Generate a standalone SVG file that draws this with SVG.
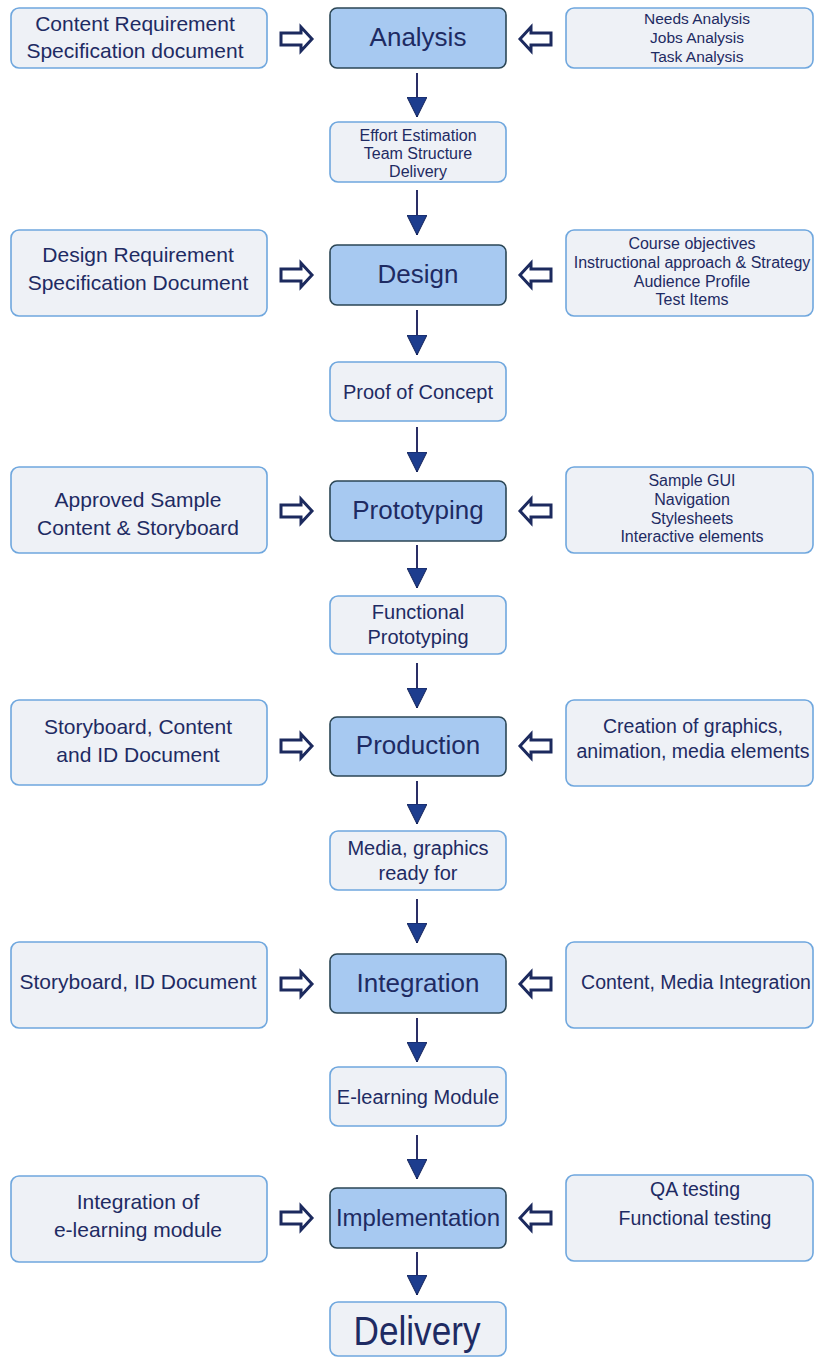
<svg xmlns="http://www.w3.org/2000/svg" width="814" height="1358" viewBox="0 0 814 1358">
<defs>
<style>
.side{fill:#eef1f6;stroke:#6fa7de;stroke-width:1.6}
.main{fill:#a7c9f1;stroke:#2b4655;stroke-width:1.6}
.small{fill:#eef1f6;stroke:#6fa7de;stroke-width:1.6}
text{font-family:"Liberation Sans",Arial,Helvetica,sans-serif;fill:#1e2b63;text-anchor:middle}
.t26{font-size:26px}
.t21{font-size:21px}
.t20{font-size:20px}
.t19{font-size:19.5px}
.t16{font-size:16px}
.t15{font-size:15.5px}
.flow{stroke:#2a2e66;stroke-width:2;fill:none;marker-end:url(#head)}
.hollow{fill:#ffffff;stroke:#1c2a5e;stroke-width:3;stroke-linejoin:miter}
</style>
<marker id="head" viewBox="0 0 20 20" refX="20" refY="10" markerWidth="20" markerHeight="20" markerUnits="userSpaceOnUse" orient="auto">
<path d="M0,0 L20,10 L0,20 Z" fill="#1d3d8e" stroke="#16245a" stroke-width="1"/>
</marker>
<path id="harrow" class="hollow" d="M-15,-6 H5 V-12 L16,0 L5,12 V6 H-15 Z"/>
</defs>
<rect width="814" height="1358" fill="#ffffff"/>

<g id="connectors">
<line class="flow" x1="417" y1="73" x2="417" y2="117"/>
<line class="flow" x1="417" y1="190" x2="417" y2="235"/>
<line class="flow" x1="417" y1="310" x2="417" y2="355"/>
<line class="flow" x1="417" y1="427" x2="417" y2="472"/>
<line class="flow" x1="417" y1="545" x2="417" y2="588"/>
<line class="flow" x1="417" y1="663" x2="417" y2="708"/>
<line class="flow" x1="417" y1="781" x2="417" y2="824"/>
<line class="flow" x1="417" y1="899" x2="417" y2="943"/>
<line class="flow" x1="417" y1="1018" x2="417" y2="1062"/>
<line class="flow" x1="417" y1="1135" x2="417" y2="1179"/>
<line class="flow" x1="417" y1="1252" x2="417" y2="1295"/>
<use href="#harrow" transform="translate(296,39)"/>
<use href="#harrow" transform="translate(536,39) scale(-1,1)"/>
<use href="#harrow" transform="translate(296,275)"/>
<use href="#harrow" transform="translate(536,275) scale(-1,1)"/>
<use href="#harrow" transform="translate(296,511)"/>
<use href="#harrow" transform="translate(536,511) scale(-1,1)"/>
<use href="#harrow" transform="translate(296,746)"/>
<use href="#harrow" transform="translate(536,746) scale(-1,1)"/>
<use href="#harrow" transform="translate(296,984)"/>
<use href="#harrow" transform="translate(536,984) scale(-1,1)"/>
<use href="#harrow" transform="translate(296,1218)"/>
<use href="#harrow" transform="translate(536,1218) scale(-1,1)"/>
</g>

<!-- Row 1 -->
<g id="content-req">
<rect class="side" x="11" y="8" width="256" height="60" rx="8"/>
<text class="t21" x="135" y="31">Content Requirement</text>
<text class="t21" x="135" y="58">Specification document</text>
</g>
<g id="analysis">
<rect class="main" x="330" y="8" width="176" height="60" rx="7"/>
<text class="t26" x="418" y="46">Analysis</text>
</g>
<g id="needs">
<rect class="side" x="566" y="8" width="247" height="60" rx="8"/>
<text class="t15" x="697" y="24">Needs Analysis</text>
<text class="t15" x="697" y="43">Jobs Analysis</text>
<text class="t15" x="697" y="61.5">Task Analysis</text>
</g>
<g id="effort">
<rect class="small" x="330" y="122" width="176" height="60" rx="8"/>
<text class="t16" x="418" y="141">Effort Estimation</text>
<text class="t16" x="418" y="159">Team Structure</text>
<text class="t16" x="418" y="177">Delivery</text>
</g>

<!-- Row 2 -->
<g id="design-req">
<rect class="side" x="11" y="230" width="256" height="86" rx="8"/>
<text class="t21" x="138" y="262">Design Requirement</text>
<text class="t21" x="138" y="290">Specification Document</text>
</g>
<g id="design">
<rect class="main" x="330" y="245" width="176" height="60" rx="7"/>
<text class="t26" x="418" y="283">Design</text>
</g>
<g id="course">
<rect class="side" x="566" y="230" width="247" height="86" rx="8"/>
<text class="t16" x="692" y="248.5">Course objectives</text>
<text class="t16" x="692" y="267.5">Instructional approach &amp; Strategy</text>
<text class="t16" x="692" y="286.5">Audience Profile</text>
<text class="t16" x="692" y="305">Test Items</text>
</g>
<g id="proof">
<rect class="small" x="330" y="362" width="176" height="59" rx="8"/>
<text class="t20" x="418" y="399">Proof of Concept</text>
</g>

<!-- Row 3 -->
<g id="approved">
<rect class="side" x="11" y="467" width="256" height="86" rx="8"/>
<text class="t21" x="138" y="507">Approved Sample</text>
<text class="t21" x="138" y="535">Content &amp; Storyboard</text>
</g>
<g id="prototyping">
<rect class="main" x="330" y="481" width="176" height="60" rx="7"/>
<text class="t26" x="418" y="519">Prototyping</text>
</g>
<g id="sample-gui">
<rect class="side" x="566" y="467" width="247" height="86" rx="8"/>
<text class="t16" x="692" y="486">Sample GUI</text>
<text class="t16" x="692" y="505">Navigation</text>
<text class="t16" x="692" y="523.5">Stylesheets</text>
<text class="t16" x="692" y="542">Interactive elements</text>
</g>
<g id="functional">
<rect class="small" x="330" y="596" width="176" height="58" rx="8"/>
<text class="t20" x="418" y="619">Functional</text>
<text class="t20" x="418" y="644">Prototyping</text>
</g>

<!-- Row 4 -->
<g id="storyboard-content">
<rect class="side" x="11" y="700" width="256" height="85" rx="8"/>
<text class="t21" x="138" y="734">Storyboard, Content</text>
<text class="t21" x="138" y="762">and ID Document</text>
</g>
<g id="production">
<rect class="main" x="330" y="717" width="176" height="59" rx="7"/>
<text class="t26" x="418" y="754">Production</text>
</g>
<g id="creation">
<rect class="side" x="566" y="700" width="247" height="86" rx="8"/>
<text class="t19" x="693" y="733">Creation of graphics,</text>
<text class="t19" x="693" y="758">animation, media elements</text>
</g>
<g id="media">
<rect class="small" x="330" y="831" width="176" height="59" rx="8"/>
<text class="t20" x="418" y="855">Media, graphics</text>
<text class="t20" x="418" y="880">ready for</text>
</g>

<!-- Row 5 -->
<g id="storyboard-id">
<rect class="side" x="11" y="942" width="256" height="86" rx="8"/>
<text class="t21" x="138" y="989">Storyboard, ID Document</text>
</g>
<g id="integration">
<rect class="main" x="330" y="954" width="176" height="59" rx="7"/>
<text class="t26" x="418" y="992">Integration</text>
</g>
<g id="content-media">
<rect class="side" x="566" y="942" width="247" height="86" rx="8"/>
<text class="t19" x="696" y="989">Content, Media Integration</text>
</g>
<g id="elearning">
<rect class="small" x="330" y="1067" width="176" height="59" rx="8"/>
<text class="t20" x="418" y="1104">E-learning Module</text>
</g>

<!-- Row 6 -->
<g id="integration-of">
<rect class="side" x="11" y="1176" width="256" height="86" rx="8"/>
<text class="t21" x="138" y="1209">Integration of</text>
<text class="t21" x="138" y="1237">e-learning module</text>
</g>
<g id="implementation">
<rect class="main" x="330" y="1188" width="176" height="60" rx="7"/>
<text x="418" y="1226" font-size="24">Implementation</text>
</g>
<g id="qa">
<rect class="side" x="566" y="1175" width="247" height="86" rx="8"/>
<text class="t19" x="695" y="1196">QA testing</text>
<text class="t19" x="695" y="1225">Functional testing</text>
</g>
<g id="delivery">
<rect class="small" x="330" y="1302" width="176" height="54" rx="8"/>
<text x="417" y="1345" font-size="40" textLength="127" lengthAdjust="spacingAndGlyphs">Delivery</text>
</g>
</svg>
